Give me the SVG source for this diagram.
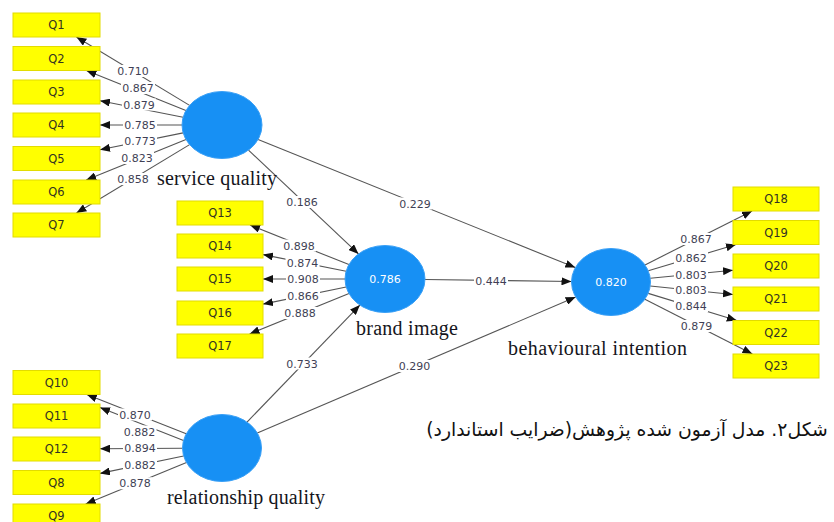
<svg xmlns="http://www.w3.org/2000/svg" width="834" height="522" viewBox="0 0 834 522">
<style>
.bg{fill:#ffffff}
.ln{stroke:#555555;stroke-width:1.1;fill:none;marker-end:url(#ah)}
.lbr{fill:#ffffff}
.lbt{font-family:"DejaVu Sans",sans-serif;font-size:11px;fill:#3f3f55;text-anchor:middle}
.box{fill:#ffff00;stroke:#e2dc00;stroke-width:1}
.bt{font-family:"DejaVu Sans",sans-serif;font-size:11.5px;fill:#333322;text-anchor:middle}
.lv{fill:#1790f4;stroke:#3aa0f6;stroke-width:1}
.lvt{font-family:"DejaVu Sans",sans-serif;font-size:11px;fill:#ffffff;text-anchor:middle}
.name{font-family:"Liberation Serif","Times New Roman",serif;font-size:20px;fill:#151520}
.cap{font-family:"DejaVu Sans",sans-serif;font-size:18.8px;fill:#111111}
</style>
<defs>
<marker id="ah" markerUnits="userSpaceOnUse" markerWidth="10" markerHeight="8" refX="10" refY="4" orient="auto">
<path d="M0,0 L10,4 L0,8 z" fill="#111111"/>
</marker>
</defs>
<rect class="bg" x="0" y="0" width="834" height="522"/>

<g id="connectors">
<!-- service quality indicators -->
<line class="ln" x1="189.6" y1="105.4" x2="76.4" y2="37"/>
<line class="ln" x1="185.9" y1="110.5" x2="86.4" y2="70.5"/>
<line class="ln" x1="183.1" y1="117.2" x2="100" y2="100.7"/>
<line class="ln" x1="182" y1="125" x2="100" y2="125"/>
<line class="ln" x1="183.1" y1="132.9" x2="100" y2="149.7"/>
<line class="ln" x1="186" y1="139.6" x2="86.2" y2="180"/>
<line class="ln" x1="189.6" y1="144.6" x2="76.4" y2="213"/>
<!-- brand image indicators -->
<line class="ln" x1="348.9" y1="264.6" x2="250" y2="225"/>
<line class="ln" x1="346.1" y1="271.2" x2="263" y2="254.6"/>
<line class="ln" x1="345" y1="279" x2="263" y2="279"/>
<line class="ln" x1="346.2" y1="287" x2="263" y2="304.1"/>
<line class="ln" x1="349" y1="293.6" x2="249.6" y2="334"/>
<!-- behavioural intention indicators -->
<line class="ln" x1="645" y1="264.9" x2="752.1" y2="211"/>
<line class="ln" x1="648.3" y1="270.8" x2="736" y2="244.5"/>
<line class="ln" x1="650.2" y1="278.2" x2="733" y2="270.2"/>
<line class="ln" x1="650.2" y1="286" x2="733" y2="294.5"/>
<line class="ln" x1="648.2" y1="293.4" x2="736.8" y2="320.5"/>
<line class="ln" x1="644.9" y1="299.2" x2="752.4" y2="354"/>
<!-- relationship quality indicators -->
<line class="ln" x1="186.2" y1="433.8" x2="86.8" y2="394.5"/>
<line class="ln" x1="183.5" y1="440.6" x2="100" y2="407.6"/>
<line class="ln" x1="182.5" y1="448.3" x2="100" y2="448.7"/>
<line class="ln" x1="183.6" y1="456" x2="100" y2="473.4"/>
<line class="ln" x1="186.5" y1="462.6" x2="85.7" y2="504"/>
<!-- structural paths -->
<line class="ln" x1="248.5" y1="150.1" x2="358.5" y2="253.9"/>
<line class="ln" x1="258.1" y1="139.6" x2="575.3" y2="267.6"/>
<line class="ln" x1="425" y1="279.5" x2="571.5" y2="281.5"/>
<line class="ln" x1="247" y1="422.1" x2="359.9" y2="305.1"/>
<line class="ln" x1="257.3" y1="432.9" x2="575.7" y2="297.1"/>

<g id="connector-labels">
<rect class="lbr" x="116" y="65" width="34" height="12"/><text class="lbt" x="133" y="75">0.710</text>
<rect class="lbr" x="121" y="82" width="34" height="12"/><text class="lbt" x="138" y="92">0.867</text>
<rect class="lbr" x="122" y="98.5" width="34" height="12"/><text class="lbt" x="139" y="108.5">0.879</text>
<rect class="lbr" x="123" y="118.5" width="34" height="12"/><text class="lbt" x="140" y="128.5">0.785</text>
<rect class="lbr" x="123" y="135" width="34" height="12"/><text class="lbt" x="140" y="145">0.773</text>
<rect class="lbr" x="120" y="152" width="34" height="12"/><text class="lbt" x="137" y="162">0.823</text>
<rect class="lbr" x="116" y="173" width="34" height="12"/><text class="lbt" x="133" y="183">0.858</text>

<rect class="lbr" x="282" y="239.5" width="34" height="12"/><text class="lbt" x="299" y="249.5">0.898</text>
<rect class="lbr" x="285.5" y="256.5" width="34" height="12"/><text class="lbt" x="302.5" y="266.5">0.874</text>
<rect class="lbr" x="286" y="273.3" width="34" height="12"/><text class="lbt" x="303" y="283.3">0.908</text>
<rect class="lbr" x="286" y="290" width="34" height="12"/><text class="lbt" x="303" y="300">0.866</text>
<rect class="lbr" x="283" y="307" width="34" height="12"/><text class="lbt" x="300" y="317">0.888</text>

<rect class="lbr" x="285" y="196" width="34" height="12"/><text class="lbt" x="302" y="206">0.186</text>
<rect class="lbr" x="398" y="197.5" width="34" height="12"/><text class="lbt" x="415" y="207.5">0.229</text>
<rect class="lbr" x="474" y="275" width="34" height="12"/><text class="lbt" x="491" y="285">0.444</text>
<rect class="lbr" x="285" y="357.5" width="34" height="12"/><text class="lbt" x="302" y="367.5">0.733</text>
<rect class="lbr" x="397.5" y="360" width="34" height="12"/><text class="lbt" x="414.5" y="370">0.290</text>

<rect class="lbr" x="679" y="233" width="34" height="12"/><text class="lbt" x="696" y="243">0.867</text>
<rect class="lbr" x="674" y="252" width="34" height="12"/><text class="lbt" x="691" y="262">0.862</text>
<rect class="lbr" x="674" y="269" width="34" height="12"/><text class="lbt" x="691" y="279">0.803</text>
<rect class="lbr" x="674" y="283.5" width="34" height="12"/><text class="lbt" x="691" y="293.5">0.803</text>
<rect class="lbr" x="674" y="300" width="34" height="12"/><text class="lbt" x="691" y="310">0.844</text>
<rect class="lbr" x="679.5" y="320" width="34" height="12"/><text class="lbt" x="696.5" y="330">0.879</text>

<rect class="lbr" x="118" y="408.5" width="34" height="12"/><text class="lbt" x="135" y="418.5">0.870</text>
<rect class="lbr" x="122.5" y="425.5" width="34" height="12"/><text class="lbt" x="139.5" y="435.5">0.882</text>
<rect class="lbr" x="123" y="442.3" width="34" height="12"/><text class="lbt" x="140" y="452.3">0.894</text>
<rect class="lbr" x="123" y="459" width="34" height="12"/><text class="lbt" x="140" y="469">0.882</text>
<rect class="lbr" x="118" y="477.3" width="34" height="12"/><text class="lbt" x="135" y="487.3">0.878</text>
</g>
</g>

<g id="service-quality">
<ellipse class="lv" cx="222" cy="125" rx="40" ry="33.5"/>
<text class="name" x="157" y="185" textLength="120" lengthAdjust="spacing">service quality</text>
</g>
<g id="brand-image">
<ellipse class="lv" cx="385" cy="279" rx="40" ry="33.5"/>
<text class="lvt" x="385" y="283">0.786</text>
<text class="name" x="356" y="335" textLength="102" lengthAdjust="spacing">brand image</text>
</g>
<g id="behavioural-intention">
<ellipse class="lv" cx="611" cy="282" rx="39.5" ry="33.5"/>
<text class="lvt" x="611" y="286">0.820</text>
<text class="name" x="508" y="355" textLength="179" lengthAdjust="spacing">behavioural intention</text>
</g>
<g id="relationship-quality">
<ellipse class="lv" cx="222" cy="448" rx="39.5" ry="33.5"/>
<text class="name" x="167" y="504" textLength="158" lengthAdjust="spacing">relationship quality</text>
</g>

<g id="Q1"><rect class="box" x="13" y="13" width="87" height="24"/><text class="bt" x="56.5" y="29">Q1</text></g>
<g id="Q2"><rect class="box" x="13" y="46.5" width="87" height="24"/><text class="bt" x="56.5" y="62.5">Q2</text></g>
<g id="Q3"><rect class="box" x="13" y="80" width="87" height="24"/><text class="bt" x="56.5" y="96">Q3</text></g>
<g id="Q4"><rect class="box" x="13" y="113" width="87" height="24"/><text class="bt" x="56.5" y="129">Q4</text></g>
<g id="Q5"><rect class="box" x="13" y="146.5" width="87" height="24"/><text class="bt" x="56.5" y="162.5">Q5</text></g>
<g id="Q6"><rect class="box" x="13" y="180" width="87" height="24"/><text class="bt" x="56.5" y="196">Q6</text></g>
<g id="Q7"><rect class="box" x="13" y="213" width="87" height="24"/><text class="bt" x="56.5" y="229">Q7</text></g>

<g id="Q13"><rect class="box" x="177" y="201" width="86" height="24"/><text class="bt" x="220" y="217">Q13</text></g>
<g id="Q14"><rect class="box" x="177" y="234" width="86" height="24"/><text class="bt" x="220" y="250">Q14</text></g>
<g id="Q15"><rect class="box" x="177" y="267" width="86" height="24"/><text class="bt" x="220" y="283">Q15</text></g>
<g id="Q16"><rect class="box" x="177" y="301" width="86" height="24"/><text class="bt" x="220" y="317">Q16</text></g>
<g id="Q17"><rect class="box" x="177" y="334" width="86" height="24"/><text class="bt" x="220" y="350">Q17</text></g>

<g id="Q18"><rect class="box" x="733" y="187" width="86" height="24"/><text class="bt" x="776" y="203">Q18</text></g>
<g id="Q19"><rect class="box" x="733" y="220.5" width="86" height="24"/><text class="bt" x="776" y="236.5">Q19</text></g>
<g id="Q20"><rect class="box" x="733" y="254" width="86" height="24"/><text class="bt" x="776" y="270">Q20</text></g>
<g id="Q21"><rect class="box" x="733" y="287" width="86" height="24"/><text class="bt" x="776" y="303">Q21</text></g>
<g id="Q22"><rect class="box" x="733" y="320.5" width="86" height="24"/><text class="bt" x="776" y="336.5">Q22</text></g>
<g id="Q23"><rect class="box" x="733" y="354" width="86" height="24"/><text class="bt" x="776" y="370">Q23</text></g>

<g id="Q10"><rect class="box" x="13" y="370.5" width="87" height="24"/><text class="bt" x="56.5" y="386.5">Q10</text></g>
<g id="Q11"><rect class="box" x="13" y="404" width="87" height="24"/><text class="bt" x="56.5" y="420">Q11</text></g>
<g id="Q12"><rect class="box" x="13" y="437" width="87" height="24"/><text class="bt" x="56.5" y="453">Q12</text></g>
<g id="Q8"><rect class="box" x="13" y="470.5" width="87" height="24"/><text class="bt" x="56.5" y="486.5">Q8</text></g>
<g id="Q9"><rect class="box" x="13" y="504" width="87" height="24"/><text class="bt" x="56.5" y="520">Q9</text></g>

<text class="cap" x="627" y="436" text-anchor="middle" direction="rtl">شکل۲. مدل آزمون شده پژوهش(ضرایب استاندارد)</text>
</svg>
